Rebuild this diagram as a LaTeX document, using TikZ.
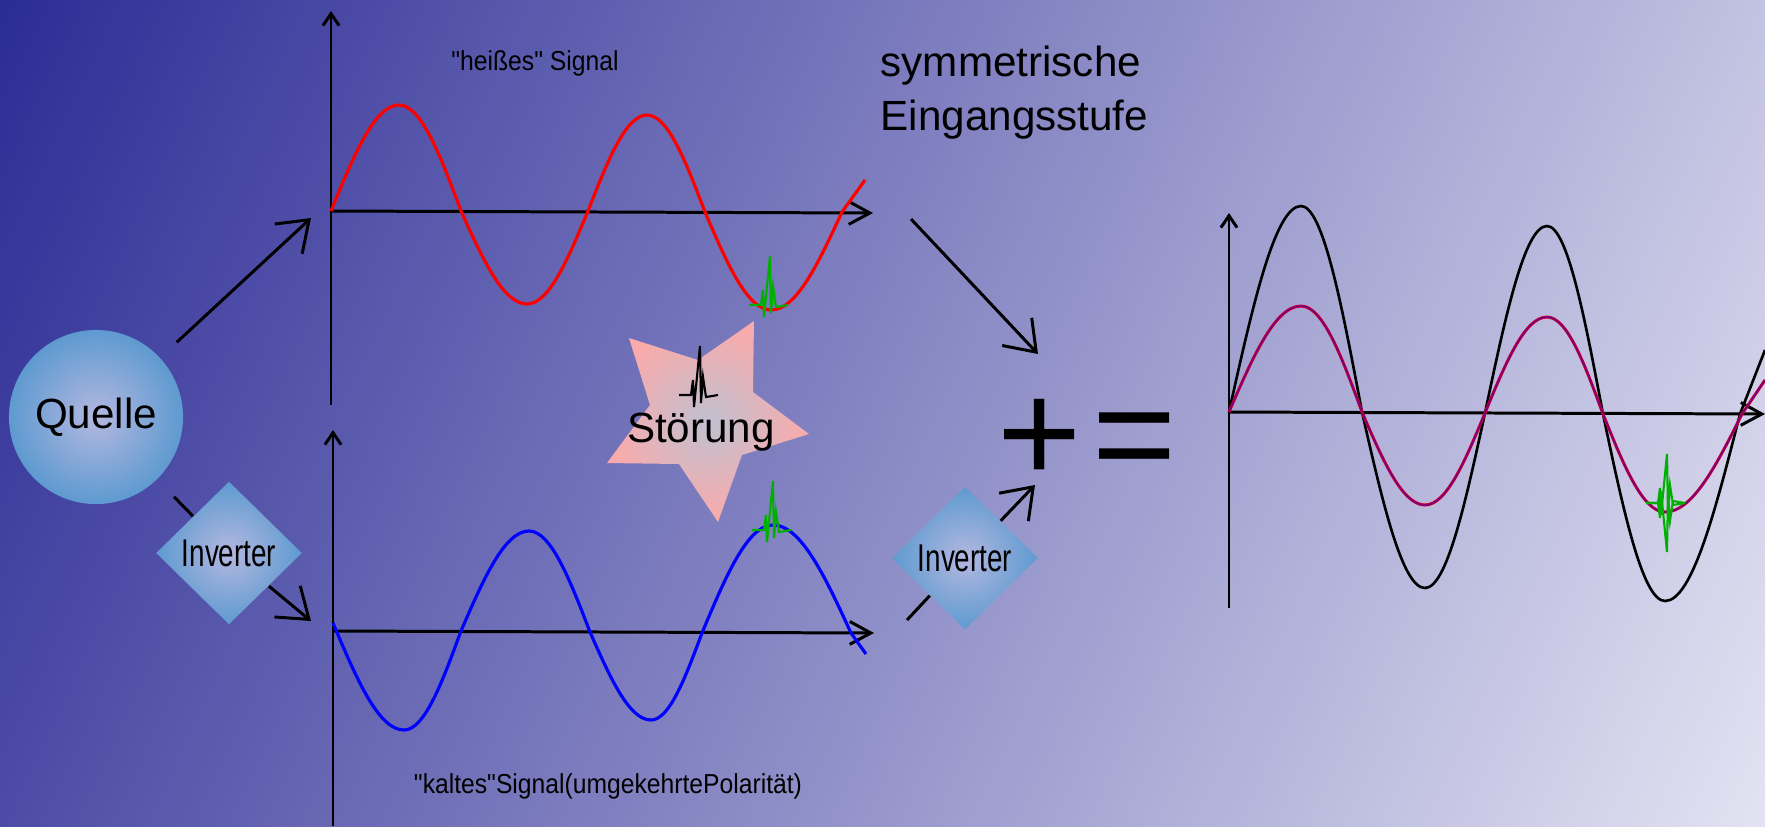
\documentclass[tikz,border=0pt]{standalone}
\usepackage{fontspec}
\setmainfont{Liberation Sans}
\newfontfamily\condfont[FakeStretch=0.9]{Liberation Sans}
\newfontfamily\invfont[FakeStretch=0.72]{Liberation Sans}
\usetikzlibrary{positioning,arrows.meta,shapes.geometric}
\definecolor{bgdark}{HTML}{2C2C96}
\definecolor{bglight}{HTML}{E2E2F2}
\definecolor{ballblue}{HTML}{5E9AD0}
\definecolor{ballcore}{HTML}{B4B8E0}
\definecolor{starpink}{HTML}{FAAAAA}
\definecolor{starcore}{HTML}{C0C0D0}
\definecolor{glitchgreen}{HTML}{00B000}
\definecolor{sumviolet}{HTML}{80007A}
\pgfdeclarehorizontalshading{bgshade}{100bp}{color(0bp)=(bgdark); color(17bp)=(bgdark);
  color(83bp)=(bglight); color(100bp)=(bglight)}
\tikzset{
  srcb/.style={circle, minimum size=1.74cm, inner sep=0pt, inner color=ballcore,
    outer color=ballblue, font=\fontsize{12}{14}\selectfont},
  invb/.style={diamond, minimum width=1.46cm, minimum height=1.43cm, inner sep=0pt,
    inner color=ballcore, outer color=ballblue, font=\invfont\fontsize{11}{13}\selectfont},
  sigtext/.style={anchor=base, inner sep=0pt, font=\condfont\fontsize{7.8}{9}\selectfont},
  bigtext/.style={inner sep=0pt, font=\fontsize{12}{15.4}\selectfont},
  opsign/.style={anchor=base, inner sep=0pt, font=\fontsize{41}{41}\selectfont},
  flow/.style={-{Straight Barb[length=8pt, width=11.5pt]}, line width=0.85pt},
  flowline/.style={line width=0.85pt},
  xaxline/.style={-{Straight Barb[length=6pt, width=6.5pt]}, line width=0.85pt},
  yaxline/.style={-{Straight Barb[length=3.4pt, width=4.6pt]}, line width=0.85pt},
  hotsig/.style={red, line width=0.9pt},
  coldsig/.style={blue, line width=0.9pt},
  sumsig/.style={black, line width=0.75pt},
  halfsig/.style={draw=red, double=sumviolet, double distance=0.6pt, line width=0.12pt},
  glitch/.pic={\draw[line width=0.6pt] (-21,0) -- (-9,0) -- (-7,-15) -- (-6,12) -- (0,-49)
    -- (1,8) -- (3,-18) -- (6,2) -- (18,0);},
}

\begin{document}
\begin{tikzpicture}[x=0.01cm, y=-0.01cm]
  \shade[shading=bgshade, shading angle=-25] (0,0) rectangle (1765,826);
  \useasboundingbox (0,0) rectangle (1765,826);

  % hot signal
  \draw[yaxline] (331,405) -- (331,11);
  \draw[xaxline] (331,211) -- (873,213);
  \draw[hotsig] (331,211) sin (399,105) cos (461,211) sin (527,304) cos (588,211)
    sin (647,115) cos (705,212) sin (771,310) cos (842,212) -- (865,180);
  \pic[color=glitchgreen] at (770,305) {glitch};
  \node[sigtext] (heiss) at (535,70) {"heißes" Signal};

  % cold signal
  \draw[yaxline] (333,826) -- (333,430);
  \draw[xaxline] (333,631) -- (874,633);
  \draw[coldsig] (333,623) sin (404,730) cos (461,631) sin (529,531) cos (590,632)
    sin (651,720) cos (702,633) sin (773,525) cos (851,633) -- (866,654);
  \pic[color=glitchgreen] at (773,530) {glitch};
  \node[sigtext] (kalt) at (608,793) {"kaltes"Signal(umgekehrtePolarität)};

  % interference
  \shade[inner color=starcore, outer color=starpink] (629,338) -- (698,360) -- (754,321)
    -- (753,392) -- (809,434) -- (742,455) -- (718,522) -- (679,464) -- (607,463)
    -- (650,405) -- cycle;
  \pic[color=black] at (700,395) {glitch};
  \node[anchor=base, inner sep=0pt, font=\fontsize{12}{14}\selectfont] (stoerung)
    at (701,442) {Störung};

  \node[srcb] (quelle) at (96,417) {Quelle};
  \node[invb] (invA) at (229,553) {Inverter};
  \node[invb] (invB) at (965,558) {Inverter};
  \node[bigtext, anchor=north west, align=left] (stufe) at (880,45)
    {symmetrische\\Eingangsstufe};
  \node[opsign] (plus) at (1040,482) {+};
  \node[opsign] (equal) at (1135,483) {=};

  \coordinate (hotin) at (311,218);
  \coordinate (coldin) at (311,621);
  \coordinate (hotout) at (911,219);
  \coordinate (sumin) at (1038,354);
  \coordinate (coldout) at (907,620);
  \coordinate (sumin2) at (1035,485);

  \draw[flow, shorten <=6.3pt] (quelle) -- (hotin);
  \draw[flowline, shorten <=6.8pt] (quelle) -- (invA);
  \draw[flow] (invA) -- (coldin);
  \draw[flow] (hotout) -- (sumin);
  \draw[flowline] (coldout) -- (invB);
  \draw[flow] (invB) -- (sumin2);

  % sum
  \draw[yaxline] (1229,608) -- (1229,213);
  \draw[xaxline] (1229,412) -- (1765,414);
  \draw[sumsig] (1229,412) sin (1301,206) cos (1362,412) sin (1425,588) cos (1485,413)
    sin (1547,226) cos (1603,414) sin (1665,601) cos (1740,414) -- (1765,350);
  \draw[halfsig] (1229,412) sin (1301,306) cos (1362,412) sin (1425,505) cos (1485,413)
    sin (1547,317) cos (1603,414) sin (1665,512) cos (1742,414) -- (1765,380);
  \pic[color=glitchgreen] at (1667,503) {glitch};
  \pic[color=glitchgreen, yscale=-1] at (1667,503) {glitch};
\end{tikzpicture}
\end{document}
